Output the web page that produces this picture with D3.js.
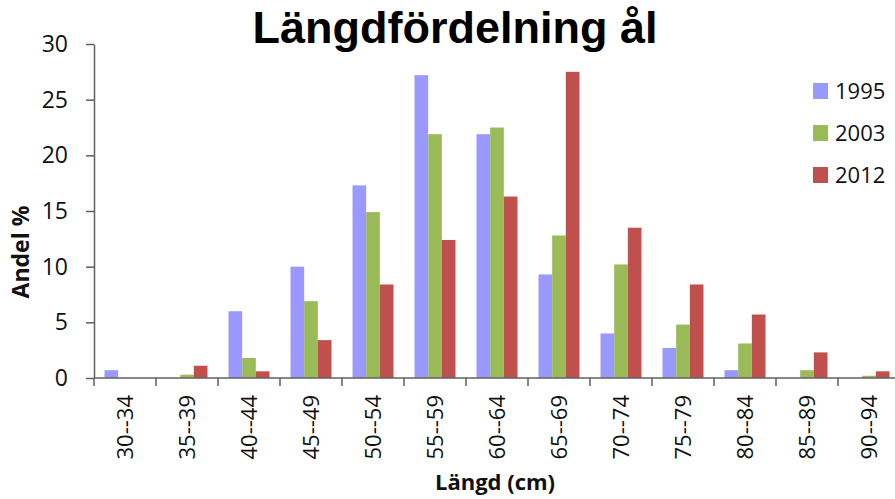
<!DOCTYPE html>
<html>
<head>
<meta charset="utf-8">
<script src="https://cdn.jsdelivr.net/npm/d3@7"></script>
<style>
  html, body { margin: 0; padding: 0; background: #fff; }
  svg { display: block; }
</style>
</head>
<body>
<svg id="chart" width="895" height="499"></svg>
<script>
// Length classes (cm)
const categories = ["30--34","35--39","40--44","45--49","50--54","55--59","60--64","65--69","70--74","75--79","80--84","85--89","90--94"];
const seriesNames = ["1995","2003","2012"];
// Share of catch per length class, %
const values1995 = [0.7, 0, 6.0, 10.0, 17.3, 27.2, 21.9, 9.3, 4.0, 2.7, 0.7, 0, 0];
const values2003 = [0, 0.3, 1.8, 6.9, 14.9, 21.9, 22.5, 12.8, 10.2, 4.8, 3.1, 0.7, 0.2];
const values2012 = [0, 1.1, 0.6, 3.4, 8.4, 12.4, 16.3, 27.5, 13.5, 8.4, 5.7, 2.3, 0.6];
const yTicks = [0, 5, 10, 15, 20, 25, 30];
const colors = ["#9999FF", "#9BBB59", "#C0504D"];

const seriesValues = [values1995, values2003, values2012];
const rows = categories.map((c, i) => ({
  cat: c,
  vals: seriesNames.map((s, k) => ({ key: s, value: seriesValues[k][i] }))
}));

const svg = d3.select("#chart");
const plotLeft = 94, plotRight = 900, plotTop = 44, plotBottom = 378;
const tickFont = "'Open Sans', sans-serif";

const x0 = d3.scaleBand().domain(categories).range([plotLeft, plotRight]).paddingInner(0).paddingOuter(0);
const groupPad = 10.5;
const x1 = d3.scaleBand().domain(seriesNames).range([groupPad, x0.bandwidth() - groupPad]).padding(0);
const y = d3.scaleLinear().domain([0, 30]).range([plotBottom, plotTop]);
const color = d3.scaleOrdinal().domain(seriesNames).range(colors);

// Bars
const groups = svg.append("g").selectAll("g").data(rows).join("g")
  .attr("transform", d => `translate(${x0(d.cat)},0)`);
groups.selectAll("rect").data(d => d.vals).join("rect")
  .attr("x", d => x1(d.key))
  .attr("width", x1.bandwidth())
  .attr("y", d => y(d.value))
  .attr("height", d => y(0) - y(d.value))
  .attr("fill", d => color(d.key));

// Y axis
const yAxis = svg.append("g").attr("transform", `translate(${plotLeft},0)`)
  .call(d3.axisLeft(y).tickValues(yTicks).tickSize(8).tickSizeOuter(0).tickPadding(18));
yAxis.select(".domain").attr("stroke", "#606060").attr("stroke-width", 1.5);
yAxis.selectAll(".tick line").attr("stroke", "#606060").attr("stroke-width", 1.5);
yAxis.selectAll(".tick text").attr("font-family", tickFont).attr("font-size", 23).attr("fill", "#111");

// X axis baseline and class boundary ticks
const xAxisG = svg.append("g");
xAxisG.append("line")
  .attr("x1", plotLeft).attr("x2", plotRight).attr("y1", y(0)).attr("y2", y(0))
  .attr("stroke", "#606060").attr("stroke-width", 1.5);
const bounds = categories.map(c => x0(c)).concat([x0(categories[categories.length - 1]) + x0.bandwidth()]);
xAxisG.selectAll("line.tk").data(bounds).join("line").attr("class", "tk")
  .attr("x1", d => d).attr("x2", d => d)
  .attr("y1", y(0)).attr("y2", y(0) + 8)
  .attr("stroke", "#606060").attr("stroke-width", 1.5);
xAxisG.selectAll("text").data(categories).join("text")
  .attr("transform", d => `translate(${x0(d) + x0.bandwidth() / 2},${y(0) + 17}) rotate(-90)`)
  .attr("text-anchor", "end")
  .attr("dy", "0.35em")
  .attr("font-family", tickFont).attr("font-size", 22).attr("fill", "#111")
  .text(d => d);

// Title
svg.append("text")
  .attr("x", 455).attr("y", 43)
  .attr("text-anchor", "middle")
  .attr("font-family", "'Liberation Sans', Arial, sans-serif")
  .attr("font-weight", "bold").attr("font-size", 45).attr("fill", "#000")
  .text("Längdfördelning ål");

// Axis titles
svg.append("text")
  .attr("x", 495).attr("y", 490)
  .attr("text-anchor", "middle")
  .attr("font-family", tickFont).attr("font-weight", "bold").attr("font-size", 22).attr("fill", "#111")
  .text("Längd (cm)");
svg.append("text")
  .attr("transform", "translate(29,252) rotate(-90)")
  .attr("text-anchor", "middle")
  .attr("font-family", tickFont).attr("font-weight", "bold").attr("font-size", 23).attr("fill", "#111")
  .text("Andel %");

// Legend
const legend = svg.append("g").selectAll("g").data(seriesNames).join("g")
  .attr("transform", (d, i) => `translate(813,${91 + i * 42})`);
legend.append("rect")
  .attr("x", 0).attr("y", -8).attr("width", 15).attr("height", 16)
  .attr("fill", d => color(d));
legend.append("text")
  .attr("x", 22).attr("dy", "0.35em")
  .attr("font-family", tickFont).attr("font-size", 22).attr("fill", "#111")
  .text(d => d);
</script>
</body>
</html>
